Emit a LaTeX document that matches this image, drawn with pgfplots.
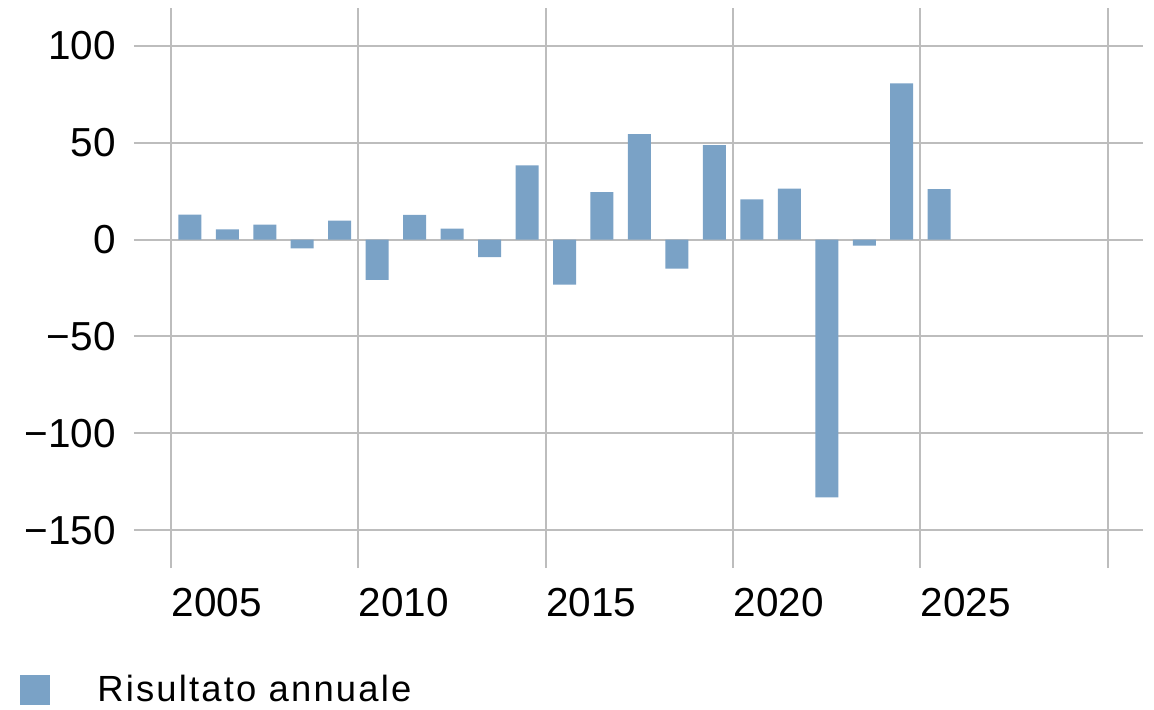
\documentclass[border=0pt]{standalone}
\usepackage{fontspec}
\setmainfont{Liberation Sans}
\newfontfamily\legfont[LetterSpace=6]{Liberation Sans}
\usepackage{pgfplots}
\pgfplotsset{compat=1.18}
\definecolor{barblue}{HTML}{7AA2C6}
\definecolor{gridgray}{HTML}{BDBDBD}

\begin{document}
\begin{tikzpicture}
\useasboundingbox (-67pt,-70.5pt) rectangle (510pt,284pt);
\begin{axis}[
  at={(0,0)}, anchor=south west,
  scale only axis, width=504.5pt, height=280pt,
  xmin=2003.51, xmax=2030.44,
  ymin=-169.5, ymax=119.5,
  axis line style={draw=none},
  major tick length=0pt,
  xtick={2004.5,2009.5,2014.5,2019.5,2024.5,2029.5},
  xticklabels={2005,2010,2015,2020,2025,{}},
  ytick={-150,-100,-50,0,50,100},
  yticklabels={−150,−100,−50,0,50,100},
  grid=major,
  grid style={gridgray, line width=1pt},
  xticklabel style={anchor=north west, inner sep=0pt, yshift=-10pt,
    font=\fontsize{20.25}{24}\selectfont},
  yticklabel style={anchor=east, inner sep=0pt, xshift=-9pt,
    font=\fontsize{20.25}{24}\selectfont},
  legend style={at={(-0.113,-0.218)}, anchor=west, draw=none, fill=none,
    inner sep=0pt, nodes={inner sep=0pt},
    font=\legfont\fontsize{18.2}{22}\selectfont},
  legend cell align=left,
]
\addplot[ybar, bar width=11.5pt, fill=barblue, draw=none,
  legend image code/.code={\fill[barblue] (0pt,-7.5pt) rectangle (15pt,7.5pt);
    \path (38.5pt,0pt);}]
  coordinates {
  (2005,12.9) (2006,5.2) (2007,7.7) (2008,-4.6) (2009,9.8)
  (2010,-20.8) (2011,12.8) (2012,5.7) (2013,-9.1) (2014,38.3)
  (2015,-23.3) (2016,24.5) (2017,54.4) (2018,-15.0) (2019,48.8)
  (2020,20.7) (2021,26.3) (2022,-133.1) (2023,-3.1) (2024,80.6)
  (2025,26.0)
};
\addlegendentry{Risultato annuale}
\end{axis}
\end{tikzpicture}
\end{document}
